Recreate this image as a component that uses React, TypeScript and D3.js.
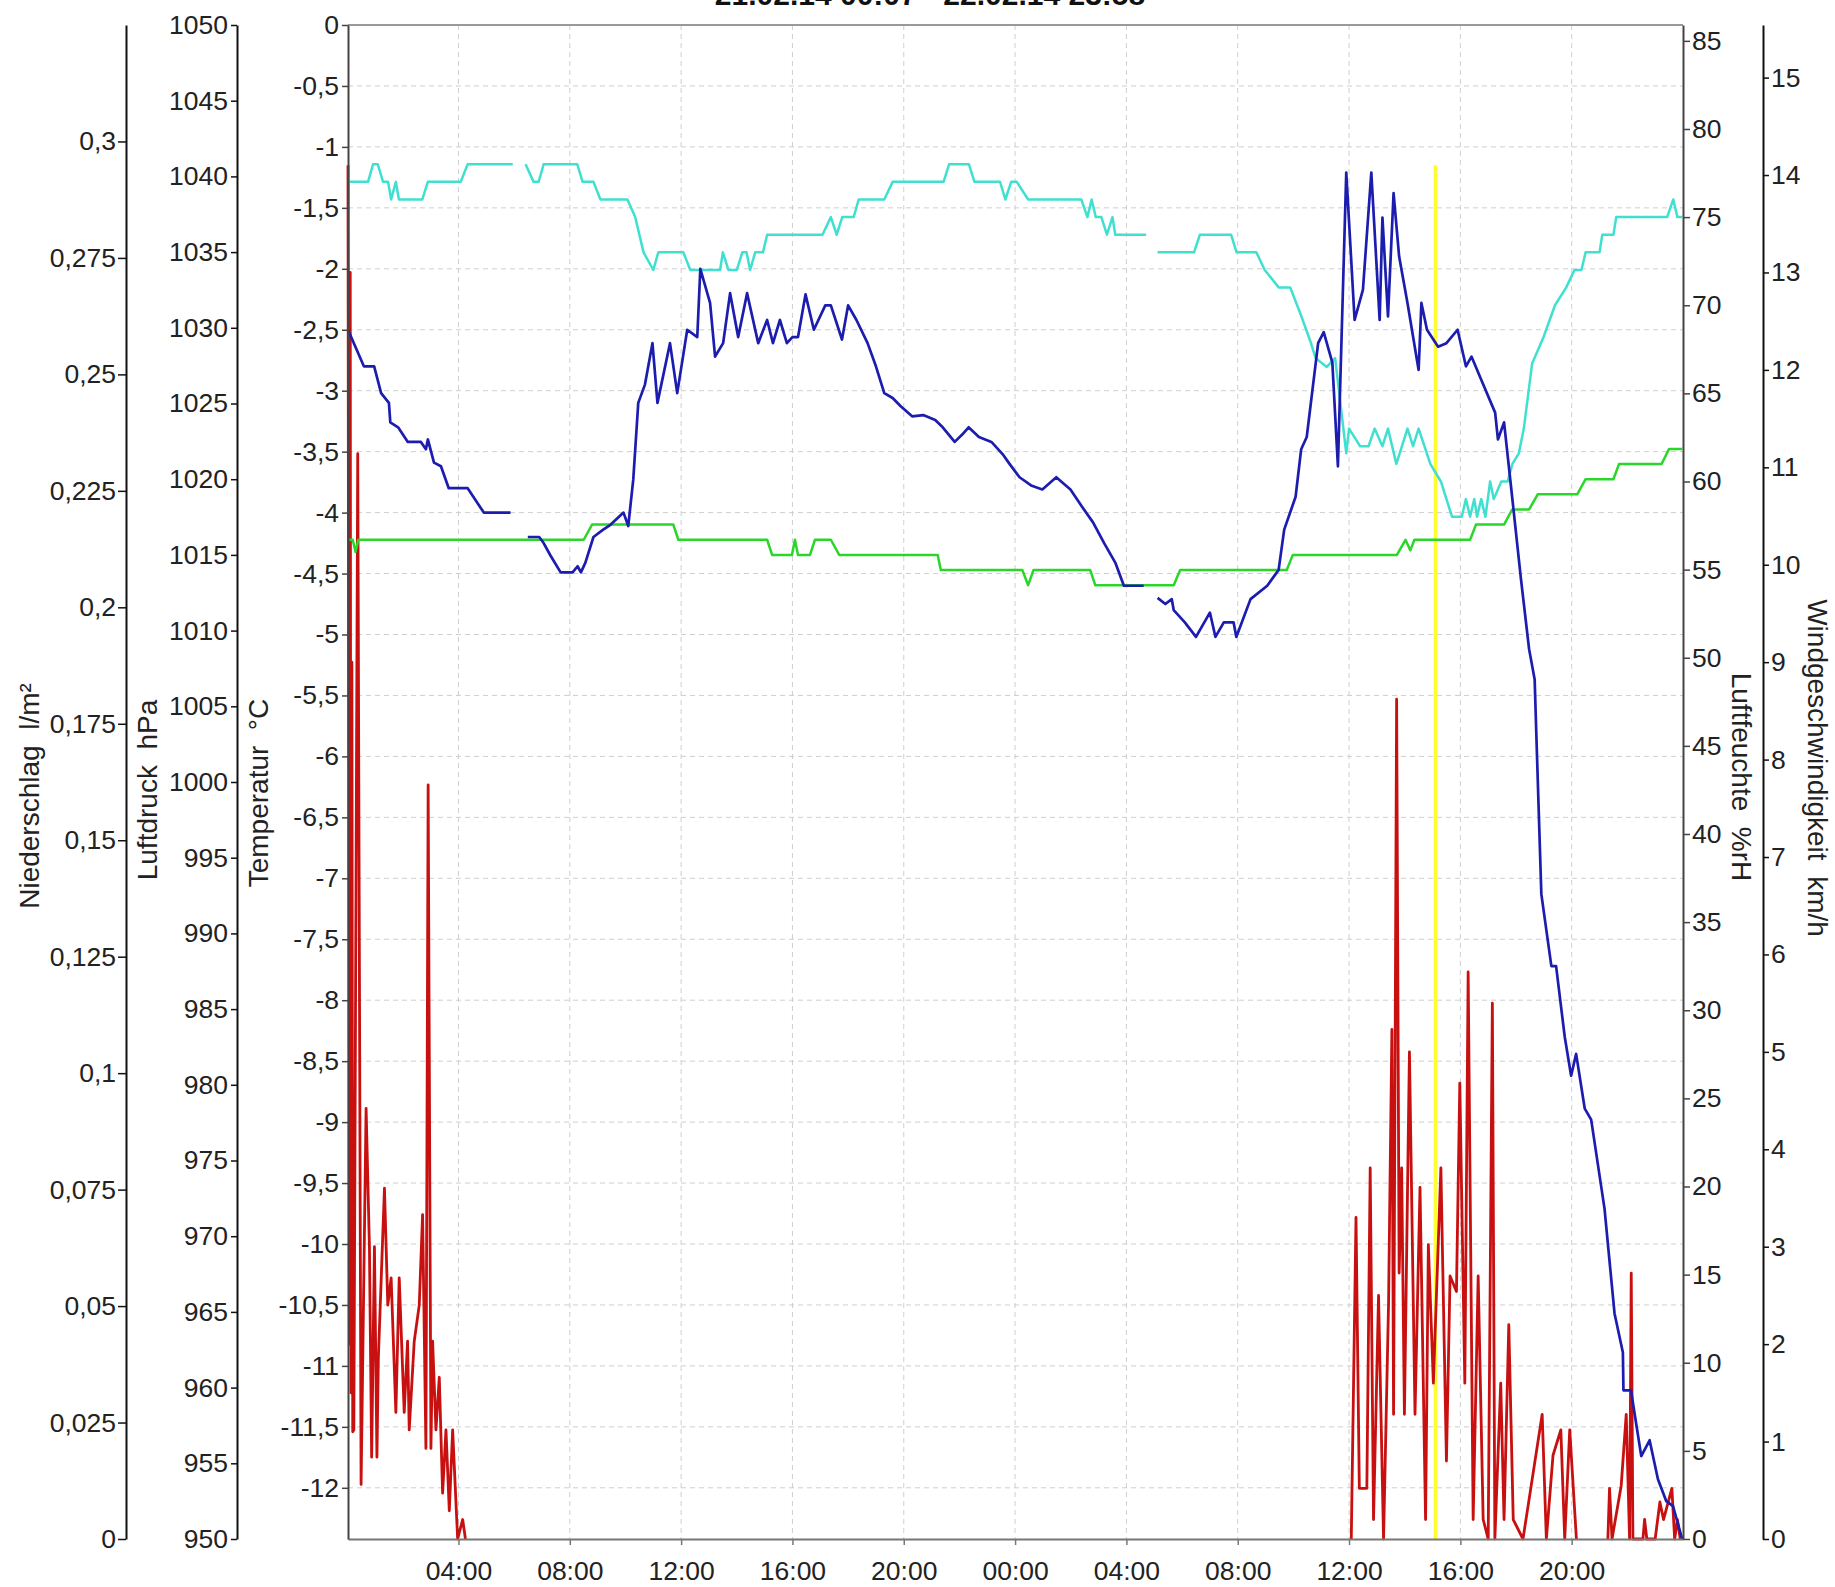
import { useEffect, useRef } from "react";
import * as d3 from "d3";

type Pt = [number, number | null];

const FONT = '"Liberation Sans", Arial, sans-serif';

const title = "21.02.14 00:07 - 22.02.14 23:58";

// hours counted from 21.02. 00:00
const timeDomain = [0.03, 48.0];
const timeTicks = [4, 8, 12, 16, 20, 24, 28, 32, 36, 40, 44];
const timeTickLabels = ["04:00", "08:00", "12:00", "16:00", "20:00", "00:00", "04:00", "08:00", "12:00", "16:00", "20:00"];

const precipDomain = [0, 0.325];
const precipTicks = [0, 0.025, 0.05, 0.075, 0.1, 0.125, 0.15, 0.175, 0.2, 0.225, 0.25, 0.275, 0.3];
const pressureDomain = [950, 1050];
const pressureTicks = [950, 955, 960, 965, 970, 975, 980, 985, 990, 995, 1000, 1005, 1010, 1015, 1020, 1025, 1030, 1035, 1040, 1045, 1050];
const tempDomain = [-12.42, 0];
const tempTicks = [0, -0.5, -1, -1.5, -2, -2.5, -3, -3.5, -4, -4.5, -5, -5.5, -6, -6.5, -7, -7.5, -8, -8.5, -9, -9.5, -10, -10.5, -11, -11.5, -12];
const humidityDomain = [0, 85.9];
const humidityTicks = [0, 5, 10, 15, 20, 25, 30, 35, 40, 45, 50, 55, 60, 65, 70, 75, 80, 85];
const windDomain = [0, 15.54];
const windTicks = [0, 1, 2, 3, 4, 5, 6, 7, 8, 9, 10, 11, 12, 13, 14, 15];

const temperature: Pt[] = [
  [0.03, -2.5], [0.6, -2.8], [0.97, -2.8], [1.22, -3.02], [1.5, -3.1], [1.55, -3.26], [1.83, -3.3], [2.18, -3.42],
  [2.65, -3.42], [2.83, -3.48], [2.9, -3.4], [3.12, -3.59], [3.37, -3.62], [3.65, -3.8], [4.33, -3.8], [4.91, -4.0], [5.87, -4.0],
  [6.2, null],
  [6.49, -4.2], [6.9, -4.2], [7.06, -4.25], [7.3, -4.35], [7.67, -4.49], [8.1, -4.49], [8.28, -4.44], [8.4, -4.49], [8.56, -4.41],
  [8.85, -4.2], [9.2, -4.14], [9.46, -4.1], [9.93, -4.0], [10.1, -4.11], [10.28, -3.73], [10.46, -3.1], [10.7, -2.95],
  [10.97, -2.61], [11.15, -3.1], [11.6, -2.61], [11.86, -3.02], [12.22, -2.5], [12.58, -2.56], [12.69, -2.0], [13.04, -2.28],
  [13.22, -2.72], [13.51, -2.61], [13.76, -2.2], [14.05, -2.56], [14.37, -2.2], [14.77, -2.61], [15.09, -2.42], [15.3, -2.61],
  [15.55, -2.42], [15.8, -2.61], [16.0, -2.56], [16.2, -2.56], [16.47, -2.21], [16.77, -2.5], [17.18, -2.3], [17.38, -2.3],
  [17.78, -2.58], [18.0, -2.3], [18.3, -2.42], [18.7, -2.61], [19.0, -2.8], [19.3, -3.02], [19.6, -3.06], [19.9, -3.13],
  [20.3, -3.21], [20.7, -3.2], [21.13, -3.24], [21.4, -3.3], [21.83, -3.42], [22.1, -3.36], [22.33, -3.3], [22.7, -3.38],
  [23.15, -3.42], [23.55, -3.52], [23.8, -3.6], [24.16, -3.71], [24.6, -3.78], [24.98, -3.81], [25.48, -3.71], [25.99, -3.81],
  [26.4, -3.95], [26.8, -4.08], [27.2, -4.25], [27.6, -4.41], [27.91, -4.6], [28.62, -4.6],
  [28.85, null],
  [29.12, -4.7], [29.4, -4.75], [29.63, -4.71], [29.7, -4.8], [30.1, -4.9], [30.5, -5.02], [31.0, -4.82], [31.2, -5.02],
  [31.5, -4.9], [31.85, -4.9], [31.95, -5.02], [32.46, -4.71], [33.06, -4.6], [33.47, -4.47], [33.67, -4.14], [34.08, -3.87],
  [34.28, -3.48], [34.48, -3.38], [34.89, -2.61], [35.09, -2.52], [35.4, -2.77], [35.6, -3.62], [35.9, -1.21], [36.2, -2.42],
  [36.5, -2.17], [36.8, -1.21], [37.1, -2.42], [37.2, -1.58], [37.4, -2.39], [37.6, -1.38], [37.8, -1.9], [38.1, -2.28],
  [38.5, -2.83], [38.6, -2.28], [38.8, -2.5], [39.2, -2.64], [39.5, -2.61], [39.9, -2.5], [40.2, -2.8], [40.4, -2.72],
  [40.75, -2.91], [41.25, -3.18], [41.35, -3.4], [41.57, -3.26], [41.86, -3.87], [42.18, -4.55], [42.47, -5.12], [42.67, -5.37],
  [42.73, -5.82], [42.91, -7.13], [43.27, -7.72], [43.44, -7.72], [43.75, -8.3], [43.98, -8.62], [44.16, -8.44], [44.47, -8.89],
  [44.7, -8.98], [45.18, -9.71], [45.54, -10.57], [45.84, -10.89], [45.86, -11.2], [46.13, -11.2], [46.5, -11.74], [46.8, -11.61],
  [47.1, -11.93], [47.4, -12.11], [47.64, -12.15], [47.97, -12.42],
];

const humidity: Pt[] = [
  [0.03, 77], [0.75, 77], [0.93, 78], [1.1, 78], [1.29, 77], [1.47, 77], [1.58, 76], [1.75, 77], [1.86, 76], [2.7, 76],
  [2.9, 77], [4.08, 77], [4.33, 78], [5.95, 78],
  [6.2, null],
  [6.41, 78], [6.7, 77], [6.88, 77], [7.06, 78], [8.27, 78], [8.46, 77], [8.85, 77], [9.1, 76], [10.07, 76], [10.35, 75],
  [10.65, 73], [11.0, 72], [11.18, 73], [12.08, 73], [12.33, 72], [13.4, 72], [13.5, 73], [13.7, 72], [14.0, 72], [14.2, 73],
  [14.35, 73], [14.48, 72], [14.66, 73], [14.94, 73], [15.09, 74], [17.08, 74], [17.38, 75], [17.59, 74], [17.79, 75],
  [18.2, 75], [18.38, 76], [19.3, 76], [19.6, 77], [21.43, 77], [21.63, 78], [22.34, 78], [22.54, 77], [23.46, 77], [23.65, 76],
  [23.86, 77], [24.06, 77], [24.47, 76], [26.38, 76], [26.6, 75], [26.75, 76], [26.9, 75], [27.1, 75], [27.3, 74], [27.5, 75],
  [27.6, 74], [28.71, 74],
  [28.9, null],
  [29.12, 73], [30.43, 73], [30.64, 74], [31.76, 74], [31.96, 73], [32.67, 73], [32.97, 72], [33.48, 71], [33.89, 71],
  [34.28, 69.4], [34.6, 68], [34.8, 67], [35.2, 66.5], [35.5, 67], [35.7, 64.3], [35.9, 61.6], [36.0, 63], [36.4, 62],
  [36.7, 62], [36.92, 63], [37.2, 62], [37.4, 63], [37.7, 61], [38.1, 63], [38.3, 62], [38.5, 63], [38.92, 61], [39.3, 60],
  [39.7, 58], [40.05, 58], [40.2, 59], [40.35, 58], [40.5, 59], [40.6, 58], [40.75, 59], [40.9, 58], [41.07, 60], [41.2, 59],
  [41.47, 60], [41.7, 60], [41.87, 61], [42.1, 61.6], [42.28, 63], [42.58, 66.7], [42.99, 68.2], [43.4, 70], [43.8, 71],
  [44.1, 72], [44.35, 72], [44.5, 73], [45.0, 73], [45.1, 74], [45.5, 74], [45.6, 75], [47.43, 75], [47.65, 76], [47.8, 75],
  [47.97, 75],
];

const pressure: Pt[] = [
  [0.03, 1016], [0.2, 1016], [0.3, 1015.2], [0.4, 1016], [8.5, 1016], [8.8, 1017], [11.72, 1017], [11.9, 1016], [15.09, 1016],
  [15.27, 1015], [15.98, 1015], [16.09, 1016], [16.2, 1015], [16.63, 1015], [16.81, 1016], [17.38, 1016], [17.68, 1015],
  [21.22, 1015], [21.33, 1014], [24.26, 1014], [24.47, 1013], [24.66, 1014], [26.7, 1014], [26.88, 1013], [29.7, 1013],
  [29.93, 1014], [33.76, 1014], [33.98, 1015], [37.72, 1015], [38.03, 1016], [38.2, 1015.3], [38.35, 1016], [40.35, 1016],
  [40.56, 1017], [41.57, 1017], [41.86, 1018], [42.47, 1018], [42.78, 1019], [44.2, 1019], [44.5, 1020], [45.5, 1020],
  [45.7, 1021], [47.23, 1021], [47.5, 1022], [47.97, 1022],
];

const windSpeed: Pt[] = [
  [0.03, 14.1], [0.08, 2.0], [0.11, 13.0], [0.14, 1.5], [0.17, 9.0], [0.2, 1.1], [0.24, 1.12], [0.38, 11.14], [0.5, 0.56],
  [0.68, 4.42], [0.8, 3.0], [0.88, 0.84], [0.98, 3.0], [1.07, 0.84], [1.12, 1.85], [1.34, 3.6], [1.46, 2.4], [1.58, 2.68],
  [1.75, 1.3], [1.87, 2.68], [2.05, 1.3], [2.17, 2.03], [2.23, 1.12], [2.41, 2.03], [2.59, 2.4], [2.71, 3.33], [2.83, 0.93],
  [2.91, 7.74], [3.01, 0.93], [3.07, 2.03], [3.19, 1.12], [3.31, 1.66], [3.43, 0.47], [3.55, 1.12], [3.67, 0.29], [3.79, 1.12],
  [3.97, 0], [4.15, 0.2], [4.25, 0],
  [4.3, null],
  [36.08, 0], [36.25, 3.3], [36.37, 0.52], [36.64, 0.52], [36.76, 3.81], [36.88, 0.2], [37.06, 2.5], [37.24, 0], [37.42, 2.42],
  [37.54, 5.23], [37.6, 1.28], [37.71, 8.62], [37.8, 2.73], [37.89, 3.81], [37.99, 1.28], [38.17, 5.0], [38.37, 1.28],
  [38.55, 3.61], [38.75, 0.2], [38.85, 3.02], [39.03, 1.6], [39.3, 3.81], [39.5, 0.8], [39.63, 2.7], [39.86, 2.54], [39.98, 4.68],
  [40.16, 1.6], [40.28, 5.82], [40.46, 0.2], [40.64, 2.7], [40.82, 0.2], [41.0, 0], [41.15, 5.5], [41.24, 0], [41.45, 1.6],
  [41.57, 0.2], [41.74, 2.2], [41.9, 0.2], [42.25, 0], [42.94, 1.28], [43.09, 0], [43.33, 0.86], [43.61, 1.12], [43.75, 0],
  [43.93, 1.12], [44.17, 0],
  [44.3, null],
  [45.3, 0], [45.36, 0.52], [45.45, 0], [45.78, 0.55], [45.96, 1.28], [46.08, 0], [46.14, 2.73], [46.2, 0], [46.56, 0],
  [46.62, 0.2], [46.7, 0], [47.0, 0], [47.17, 0.38], [47.3, 0.2], [47.6, 0.52], [47.7, 0], [47.8, 0.2], [47.9, 0],
];

// yellow marker line (hour, top on wind scale)
const markerHour = 39.1;
const markerTop = 14.1;

const comma = (v: number) => String(+v.toFixed(3)).replace(".", ",");

const App = () => {
  const svgRef = useRef<SVGSVGElement>(null);
  const width = 1835;
  const height = 1587;
  const plot = { left: 348, right: 1683, top: 25, bottom: 1539 };
  const precipX = 126;
  const pressureX = 237;
  const windX = 1763;

  useEffect(() => {
    const svg = d3.select(svgRef.current);
    svg.selectAll("*").remove();

    const x = d3.scaleLinear().domain(timeDomain).range([plot.left, plot.right]);
    const yRange = [plot.bottom, plot.top];
    const yPrecip = d3.scaleLinear().domain(precipDomain).range(yRange);
    const yPress = d3.scaleLinear().domain(pressureDomain).range(yRange);
    const yTemp = d3.scaleLinear().domain(tempDomain).range(yRange);
    const yHum = d3.scaleLinear().domain(humidityDomain).range(yRange);
    const yWind = d3.scaleLinear().domain(windDomain).range(yRange);

    svg.append("rect").attr("width", width).attr("height", height).attr("fill", "#fff");

    // grid
    const grid = svg.append("g").attr("stroke", "#cfcfcf").attr("stroke-width", 1).attr("stroke-dasharray", "5,4");
    grid.selectAll("line.v")
      .data(timeTicks)
      .join("line")
      .attr("x1", d => x(d)).attr("x2", d => x(d))
      .attr("y1", plot.top).attr("y2", plot.bottom);
    grid.selectAll("line.h")
      .data(tempTicks.filter(d => d !== 0))
      .join("line")
      .attr("x1", plot.left).attr("x2", plot.right)
      .attr("y1", d => yTemp(d)).attr("y2", d => yTemp(d));

    // yellow marker
    svg.append("line")
      .attr("x1", x(markerHour)).attr("x2", x(markerHour))
      .attr("y1", yWind(markerTop)).attr("y2", yWind(0))
      .attr("stroke", "#ffff30").attr("stroke-width", 3.5);

    const drawLine = (data: Pt[], y: d3.ScaleLinear<number, number>, color: string, w = 2.3) => {
      const line = d3.line<Pt>()
        .defined(d => d[1] != null)
        .x(d => x(d[0]))
        .y(d => y(d[1] as number));
      svg.append("path")
        .attr("d", line(data))
        .attr("fill", "none")
        .attr("stroke", color)
        .attr("stroke-width", w)
        .attr("stroke-linejoin", "round");
    };

    drawLine(windSpeed, yWind, "#c81010", 2.8);
    drawLine(humidity, yHum, "#40e0d0", 2.5);
    drawLine(pressure, yPress, "#2ad62a", 2.5);
    drawLine(temperature, yTemp, "#1c1caf", 2.7);

    // frame
    svg.append("line")
      .attr("x1", plot.left).attr("x2", plot.right)
      .attr("y1", plot.top).attr("y2", plot.top)
      .attr("stroke", "#999").attr("stroke-width", 2);

    const styleAxis = (g: d3.Selection<SVGGElement, unknown, null, undefined>, color: string) => {
      g.attr("font-size", 26.5).attr("font-family", FONT);
      g.select(".domain").attr("stroke", color).attr("stroke-width", 2);
      g.selectAll(".tick line").attr("stroke", color).attr("stroke-width", 1.5);
      g.selectAll(".tick text").attr("fill", "#222");
    };

    const bottom = svg.append("g")
      .attr("transform", `translate(0,${plot.bottom})`)
      .call(d3.axisBottom(x).tickValues(timeTicks)
        .tickFormat((_, i) => timeTickLabels[i])
        .tickSize(6).tickPadding(16).tickSizeOuter(0));
    styleAxis(bottom, "#777");

    const precipAxis = svg.append("g")
      .attr("transform", `translate(${precipX},0)`)
      .call(d3.axisLeft(yPrecip).tickValues(precipTicks).tickFormat(d => comma(+d))
        .tickSize(8).tickPadding(2).tickSizeOuter(0));
    styleAxis(precipAxis, "#111");

    const pressAxis = svg.append("g")
      .attr("transform", `translate(${pressureX},0)`)
      .call(d3.axisLeft(yPress).tickValues(pressureTicks).tickFormat(d => String(d))
        .tickSize(6).tickPadding(3).tickSizeOuter(0));
    styleAxis(pressAxis, "#111");

    const tempAxis = svg.append("g")
      .attr("transform", `translate(${plot.left},0)`)
      .call(d3.axisLeft(yTemp).tickValues(tempTicks).tickFormat(d => comma(+d))
        .tickSize(6).tickPadding(3).tickSizeOuter(0));
    styleAxis(tempAxis, "#444");

    const humAxis = svg.append("g")
      .attr("transform", `translate(${plot.right},0)`)
      .call(d3.axisRight(yHum).tickValues(humidityTicks).tickFormat(d => String(d))
        .tickSize(7).tickPadding(2).tickSizeOuter(0));
    styleAxis(humAxis, "#444");

    const windAxis = svg.append("g")
      .attr("transform", `translate(${windX},0)`)
      .call(d3.axisRight(yWind).tickValues(windTicks).tickFormat(d => String(d))
        .tickSize(6).tickPadding(2).tickSizeOuter(0));
    styleAxis(windAxis, "#111");

    // axis titles
    const titles = [
      { text: "Niederschlag  l/m²", cx: 29, cy: 796, rot: -90 },
      { text: "Luftdruck  hPa", cx: 147, cy: 790, rot: -90 },
      { text: "Temperatur  °C", cx: 258, cy: 793, rot: -90 },
      { text: "Luftfeuchte  %rH", cx: 1742, cy: 777, rot: 90 },
      { text: "Windgeschwindigkeit  km/h", cx: 1818, cy: 768, rot: 90 },
    ];
    svg.append("g")
      .selectAll("text")
      .data(titles)
      .join("text")
      .attr("transform", d => `translate(${d.cx},${d.cy}) rotate(${d.rot})`)
      .attr("text-anchor", "middle")
      .attr("dy", "0.35em")
      .attr("font-family", FONT)
      .attr("font-size", 28)
      .attr("fill", "#222")
      .style("white-space", "pre")
      .text(d => d.text);

    svg.append("text")
      .attr("x", 930)
      .attr("y", 5)
      .attr("text-anchor", "middle")
      .attr("font-family", FONT)
      .attr("font-size", 30)
      .attr("font-weight", "bold")
      .attr("fill", "#111")
      .text(title);
  }, []);

  return (
    <svg
      ref={svgRef}
      width={width}
      height={height}
      style={{ position: "absolute", left: 0, top: 0, display: "block" }}
    />
  );
};

export default App;
